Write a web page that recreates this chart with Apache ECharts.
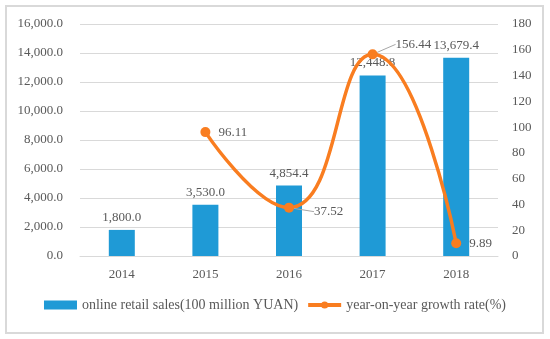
<!DOCTYPE html>
<html><head><meta charset="utf-8">
<script src="https://cdn.jsdelivr.net/npm/echarts@6/dist/echarts.min.js"></script>
<style>html,body{margin:0;padding:0;background:#fff}#c{width:550px;height:339px}</style>
</head><body><div id="c"></div>
<script>
const categories = ['2014','2015','2016','2017','2018'];
const salesValues = [1800.0, 3530.0, 4854.4, 12448.8, 13679.4];
const growthValues = [null, 96.11, 37.52, 156.44, 9.89];
const salesName = 'online retail sales(100 million YUAN)';
const growthName = 'year-on-year growth rate(%)';

const FONT = '"Liberation Serif", serif';
const TXT = '#595959';
const fmt1 = v => Number(v).toLocaleString('en-US',{minimumFractionDigits:1,maximumFractionDigits:1});
const leaderIdx = [2,3];

const chart = echarts.init(document.getElementById('c'), null, {renderer:'canvas'});
chart.setOption({
  animation:false,
  textStyle:{fontFamily:FONT,color:TXT},
  graphic:[{type:'rect',shape:{x:6,y:6,width:537,height:327},style:{fill:'none',stroke:'#d9d9d9',lineWidth:2},silent:true}],
  grid:{left:80,right:52,top:24,bottom:83},
  legend:{
    bottom:22,left:'center',itemGap:8,
    textStyle:{fontFamily:FONT,fontSize:14,color:TXT},
    data:[{name:salesName,icon:'rect'},{name:growthName,lineStyle:{width:4}}],
    itemWidth:33,itemHeight:9
  },
  xAxis:{type:'category',data:categories,
    axisLine:{lineStyle:{color:'#d9d9d9',width:1}},axisTick:{show:false},
    axisLabel:{fontFamily:FONT,fontSize:13,color:TXT,margin:12}},
  yAxis:[
    {type:'value',min:0,max:16000,interval:2000,
     axisLabel:{formatter:fmt1,fontFamily:FONT,fontSize:13,color:TXT,margin:17},
     splitLine:{lineStyle:{color:'#d9d9d9'}},axisLine:{show:false},axisTick:{show:false}},
    {type:'value',min:0,max:180,interval:20,
     axisLabel:{fontFamily:FONT,fontSize:13,color:TXT,margin:14},
     splitLine:{show:false},axisLine:{show:false},axisTick:{show:false}}
  ],
  series:[
    {name:salesName,type:'bar',data:salesValues,barWidth:26,
     itemStyle:{color:'#1F9AD6'},
     label:{show:true,position:'top',distance:6,formatter:p=>fmt1(p.value),fontFamily:FONT,fontSize:13,color:TXT}},
    {name:growthName,type:'line',yAxisIndex:1,
     data:growthValues.map((v,i)=>({value:v,labelLine:{show:leaderIdx.indexOf(i)>=0}})),
     smooth:0.5,connectNulls:false,symbol:'circle',symbolSize:10,
     lineStyle:{color:'#F97D20',width:3.5},itemStyle:{color:'#F97D20'},
     label:{show:true,position:'right',distance:8,fontFamily:FONT,fontSize:13,color:TXT,formatter:p=>p.value},
     labelLine:{lineStyle:{color:'#a6a6a6',width:1}},
     labelLayout:function(params){
       if(params.dataIndex===2) return {dx:12,dy:4};
       if(params.dataIndex===3) return {dx:10,dy:-10};
       return {};
     }
    }
  ]
});
</script></body></html>
